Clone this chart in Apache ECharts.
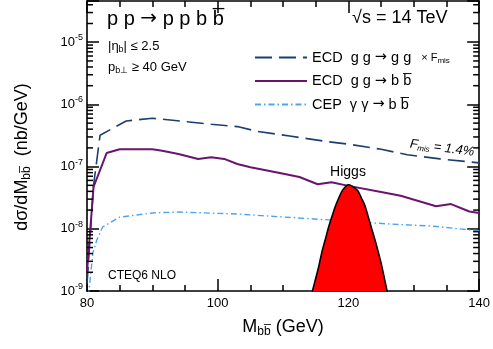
<!DOCTYPE html>
<html><head><meta charset="utf-8">
<script src="https://cdn.jsdelivr.net/npm/echarts@6/dist/echarts.min.js"></script>
<style>html,body{margin:0;padding:0;background:#fff}#c{width:493px;height:349px}</style>
</head><body><div id="c"></div><script>
// ECD gg -> gg x Fmis
const ecdGgMass = [80, 81, 82, 86, 90, 95, 99, 103, 106, 111, 117, 120, 125, 129, 134, 140];
const ecdGgXsec = [1.3e-9, 5e-8, 3.2e-7, 5.4e-7, 6.0e-7, 5.3e-7, 4.8e-7, 4.4e-7, 3.7e-7, 3.1e-7, 2.5e-7, 2.3e-7, 1.9e-7, 1.55e-7, 1.33e-7, 1.15e-7];
// ECD gg -> bb
const ecdBbMass = [80, 81, 83, 85, 90, 91.5, 94, 97, 99, 101, 103, 105, 109.5, 112.5, 115.3, 117.4, 120, 125, 128, 133.4, 135.7, 138.5, 140];
const ecdBbXsec = [2e-9, 4.7e-8, 1.65e-7, 1.9e-7, 1.9e-7, 1.8e-7, 1.6e-7, 1.33e-7, 1.42e-7, 1.33e-7, 1.1e-7, 9.8e-8, 7.9e-8, 6.8e-8, 5.2e-8, 5.6e-8, 4.9e-8, 3.9e-8, 3.4e-8, 2.3e-8, 2.5e-8, 1.9e-8, 1.8e-8];
// CEP gamma gamma -> bb
const cepMass = [80, 80.9, 81.5, 82.4, 85, 90, 94, 103, 112.5, 117, 126, 133, 139, 140];
const cepXsec = [5e-10, 4.1e-9, 6.6e-9, 1.07e-8, 1.54e-8, 1.8e-8, 1.86e-8, 1.73e-8, 1.49e-8, 1.39e-8, 1.2e-8, 1.1e-8, 9.5e-9, 9.3e-9];
// Higgs peak
const higgsMass = [114, 114.5, 115, 115.5, 116, 116.5, 117, 117.5, 118, 118.5, 119, 119.5, 120, 120.5, 121, 121.5, 122, 122.5, 123, 123.5, 124, 124.5, 125, 125.5, 126];
const higgsXsec = [5e-10, 1e-9, 1.6e-9, 2.6e-9, 4.5e-9, 7e-9, 1.1e-8, 1.6e-8, 2.3e-8, 3.1e-8, 4.0e-8, 4.7e-8, 5.1e-8, 4.9e-8, 4.5e-8, 4.0e-8, 3.1e-8, 2.4e-8, 1.6e-8, 1.05e-8, 7e-9, 4.5e-9, 2.8e-9, 1.6e-9, 9e-10];
// axes
const xTicks = [80, 100, 120, 140];
const yDecades = [-9, -8, -7, -6, -5];
const yMinorVals = [];
for (const d of yDecades) for (let m = 2; m <= 9; m++) { const v = m * Math.pow(10, d); if (v < 4.6e-5) yMinorVals.push(v); }

const zip = (a, b) => a.map((x, i) => [x, b[i]]);
const FONT = '"Liberation Sans", Arial, sans-serif';
const AR = '"DejaVu Sans", sans-serif';
const OB = 'b\u0305';

const ggStyle = {color: '#1b3f6e', width: 1.6, type: [17, 7]};
const bbStyle = {color: '#6b146f', width: 2};
const cepStyle = {color: '#4fa3f2', width: 1.4, type: [6, 3, 1.5, 3]};

const axisCommon = {axisLine: {show: true, lineStyle: {color: '#000', width: 1.6}}, splitLine: {show: false}};
const majorTick = {show: true, inside: true, length: 12, lineStyle: {color: '#000', width: 1.5}};
const minorTickX = {show: true, splitNumber: 4, length: 6, lineStyle: {color: '#000', width: 1.5}};

const chart = echarts.init(document.getElementById('c'));
chart.setOption({
  animation: false,
  backgroundColor: '#fff',
  grid: {left: 87, right: 13, top: 1, bottom: 58, containLabel: false},
  xAxis: [
    Object.assign({type: 'value', min: 80, max: 140, interval: 20, position: 'bottom',
      axisTick: majorTick, minorTick: minorTickX,
      axisLabel: {show: true, margin: 6, fontSize: 13, fontFamily: FONT, color: '#000',
        formatter: v => xTicks.includes(v) ? String(v) : ''}}, axisCommon),
    Object.assign({type: 'value', min: 80, max: 140, interval: 20, position: 'top',
      axisTick: majorTick, minorTick: minorTickX, axisLabel: {show: false}}, axisCommon)
  ],
  yAxis: [
    Object.assign({type: 'log', logBase: 10, min: 1e-9, max: 4.6e-5, position: 'left', splitNumber: 5,
      axisTick: majorTick,
      axisLabel: {show: true, margin: 4, fontFamily: FONT, color: '#000',
        rich: {b: {fontSize: 13, fontFamily: FONT, color: '#000'}, s: {fontSize: 9, fontFamily: FONT, color: '#000', padding: [0, 0, 9, 0]}},
        formatter: v => { const e = Math.log10(v); const r = Math.round(e);
          if (Math.abs(e - r) > 1e-6 || !yDecades.includes(r)) return ''; return '{b|10}{s|' + r + '}'; }}}, axisCommon),
    Object.assign({type: 'log', logBase: 10, min: 1e-9, max: 4.6e-5, position: 'right', splitNumber: 5,
      axisTick: majorTick, axisLabel: {show: false}}, axisCommon)
  ],
  legend: {
    orient: 'vertical', left: 249, top: 45, itemWidth: 52, itemHeight: 14, itemGap: 8.5,
    itemStyle: {opacity: 0},
    data: ['gg', 'bb', 'cep'],
    formatter: name => {
      if (name === 'gg') return '{t|ECD  g g }{a|\u2192}{t| g g}   {m|\u00d7 F}{sub|mis}';
      if (name === 'bb') return '{t|ECD  g g }{a|\u2192}{t| b ' + OB + '}';
      return '{t|CEP  \u03b3 \u03b3 }{a|\u2192}{t| b ' + OB + '}';
    },
    textStyle: {rich: {
      t: {fontSize: 14.5, fontFamily: FONT, color: '#000'},
      a: {fontSize: 14.5, fontFamily: AR, color: '#000'},
      m: {fontSize: 11, fontFamily: FONT, color: '#000'},
      sub: {fontSize: 8, fontFamily: FONT, color: '#000', padding: [6, 0, 0, 0]}
    }}
  },
  series: [
    {name: 'gg', type: 'line', data: zip(ecdGgMass, ecdGgXsec), symbol: 'none', lineStyle: ggStyle, itemStyle: {color: ggStyle.color}},
    {name: 'bb', type: 'line', data: zip(ecdBbMass, ecdBbXsec), symbol: 'none', lineStyle: bbStyle, itemStyle: {color: bbStyle.color}},
    {name: 'cep', type: 'line', data: zip(cepMass, cepXsec), symbol: 'none', lineStyle: cepStyle, itemStyle: {color: cepStyle.color}},
    {name: 'Higgs', type: 'line', data: zip(higgsMass, higgsXsec), symbol: 'none', smooth: 0.3,
      lineStyle: {color: '#000', width: 1.6}, areaStyle: {color: '#ff0000', opacity: 1, origin: 'start'}, z: 5},
    {name: 'minor', type: 'custom', silent: true, z: 8, clip: false,
      data: yMinorVals.map(v => [80, v]), encode: {x: 0, y: 1},
      renderItem: (params, api) => {
        const v = api.value(1);
        const p = api.coord([80, v]);
        const q = api.coord([140, v]);
        return {type: 'group', children: [
          {type: 'rect', shape: {x: p[0], y: p[1] - 0.75, width: 6, height: 1.5}, style: {fill: '#000'}},
          {type: 'rect', shape: {x: q[0] - 6, y: q[1] - 0.75, width: 6, height: 1.5}, style: {fill: '#000'}}
        ]};
      }}
  ],
  graphic: [
    {type: 'text', x: 22, y: 157, rotation: Math.PI / 2, style: {
      text: '{n|d\u03c3/dM}{s|bb\u0305}{n|  (nb/GeV)}', align: 'center', verticalAlign: 'middle',
      rich: {n: {fontSize: 18, fontFamily: FONT, fill: '#000'}, s: {fontSize: 12, fontFamily: FONT, fill: '#000', padding: [10, 0, 0, 0]}}}},
    {type: 'text', x: 283, y: 327, style: {
      text: '{n|M}{s|bb\u0305}{n| (GeV)}', align: 'center', verticalAlign: 'middle',
      rich: {n: {fontSize: 18, fontFamily: FONT, fill: '#000'}, s: {fontSize: 12, fontFamily: FONT, fill: '#000', padding: [10, 0, 0, 0]}}}},
    {type: 'text', x: 107, y: 19, style: {text: '{t|p p }{a|\u2192}{t| p p b ' + OB + '}', verticalAlign: 'middle',
      rich: {t: {fontSize: 20, fontFamily: FONT, fill: '#000'}, a: {fontSize: 20, fontFamily: AR, fill: '#000'}}}},
    {type: 'text', x: 352, y: 18, style: {text: '\u221as = 14 TeV', font: '18px ' + FONT, fill: '#000', verticalAlign: 'middle'}},
    {type: 'text', x: 108, y: 46, style: {text: '{n||\u03b7}{s|b}{n|| \u2264 2.5}', verticalAlign: 'middle',
      rich: {n: {fontSize: 13, fontFamily: FONT, fill: '#000'}, s: {fontSize: 9, fontFamily: FONT, fill: '#000', padding: [8, 0, 0, 0]}}}},
    {type: 'text', x: 108, y: 67, style: {text: '{n|p}{s|b\u22a5}{n| \u2265 40 GeV}', verticalAlign: 'middle',
      rich: {n: {fontSize: 13, fontFamily: FONT, fill: '#000'}, s: {fontSize: 9, fontFamily: FONT, fill: '#000', padding: [8, 0, 0, 0]}}}},
    {type: 'text', x: 442, y: 148, rotation: -0.13, style: {text: '{n|F}{s|mis}{n| = 1.4%}', align: 'center', verticalAlign: 'middle',
      rich: {n: {fontSize: 13, fontStyle: 'italic', fontFamily: FONT, fill: '#000'}, s: {fontSize: 8, fontStyle: 'italic', fontFamily: FONT, fill: '#000', padding: [7, 0, 0, 0]}}}},
    {type: 'text', x: 348, y: 172, style: {text: 'Higgs', font: '14px ' + FONT, fill: '#000', align: 'center', verticalAlign: 'middle'}},
    {type: 'text', x: 108, y: 276, style: {text: 'CTEQ6 NLO', font: '12px ' + FONT, fill: '#000', verticalAlign: 'middle'}}
  ]
});
</script></body></html>
